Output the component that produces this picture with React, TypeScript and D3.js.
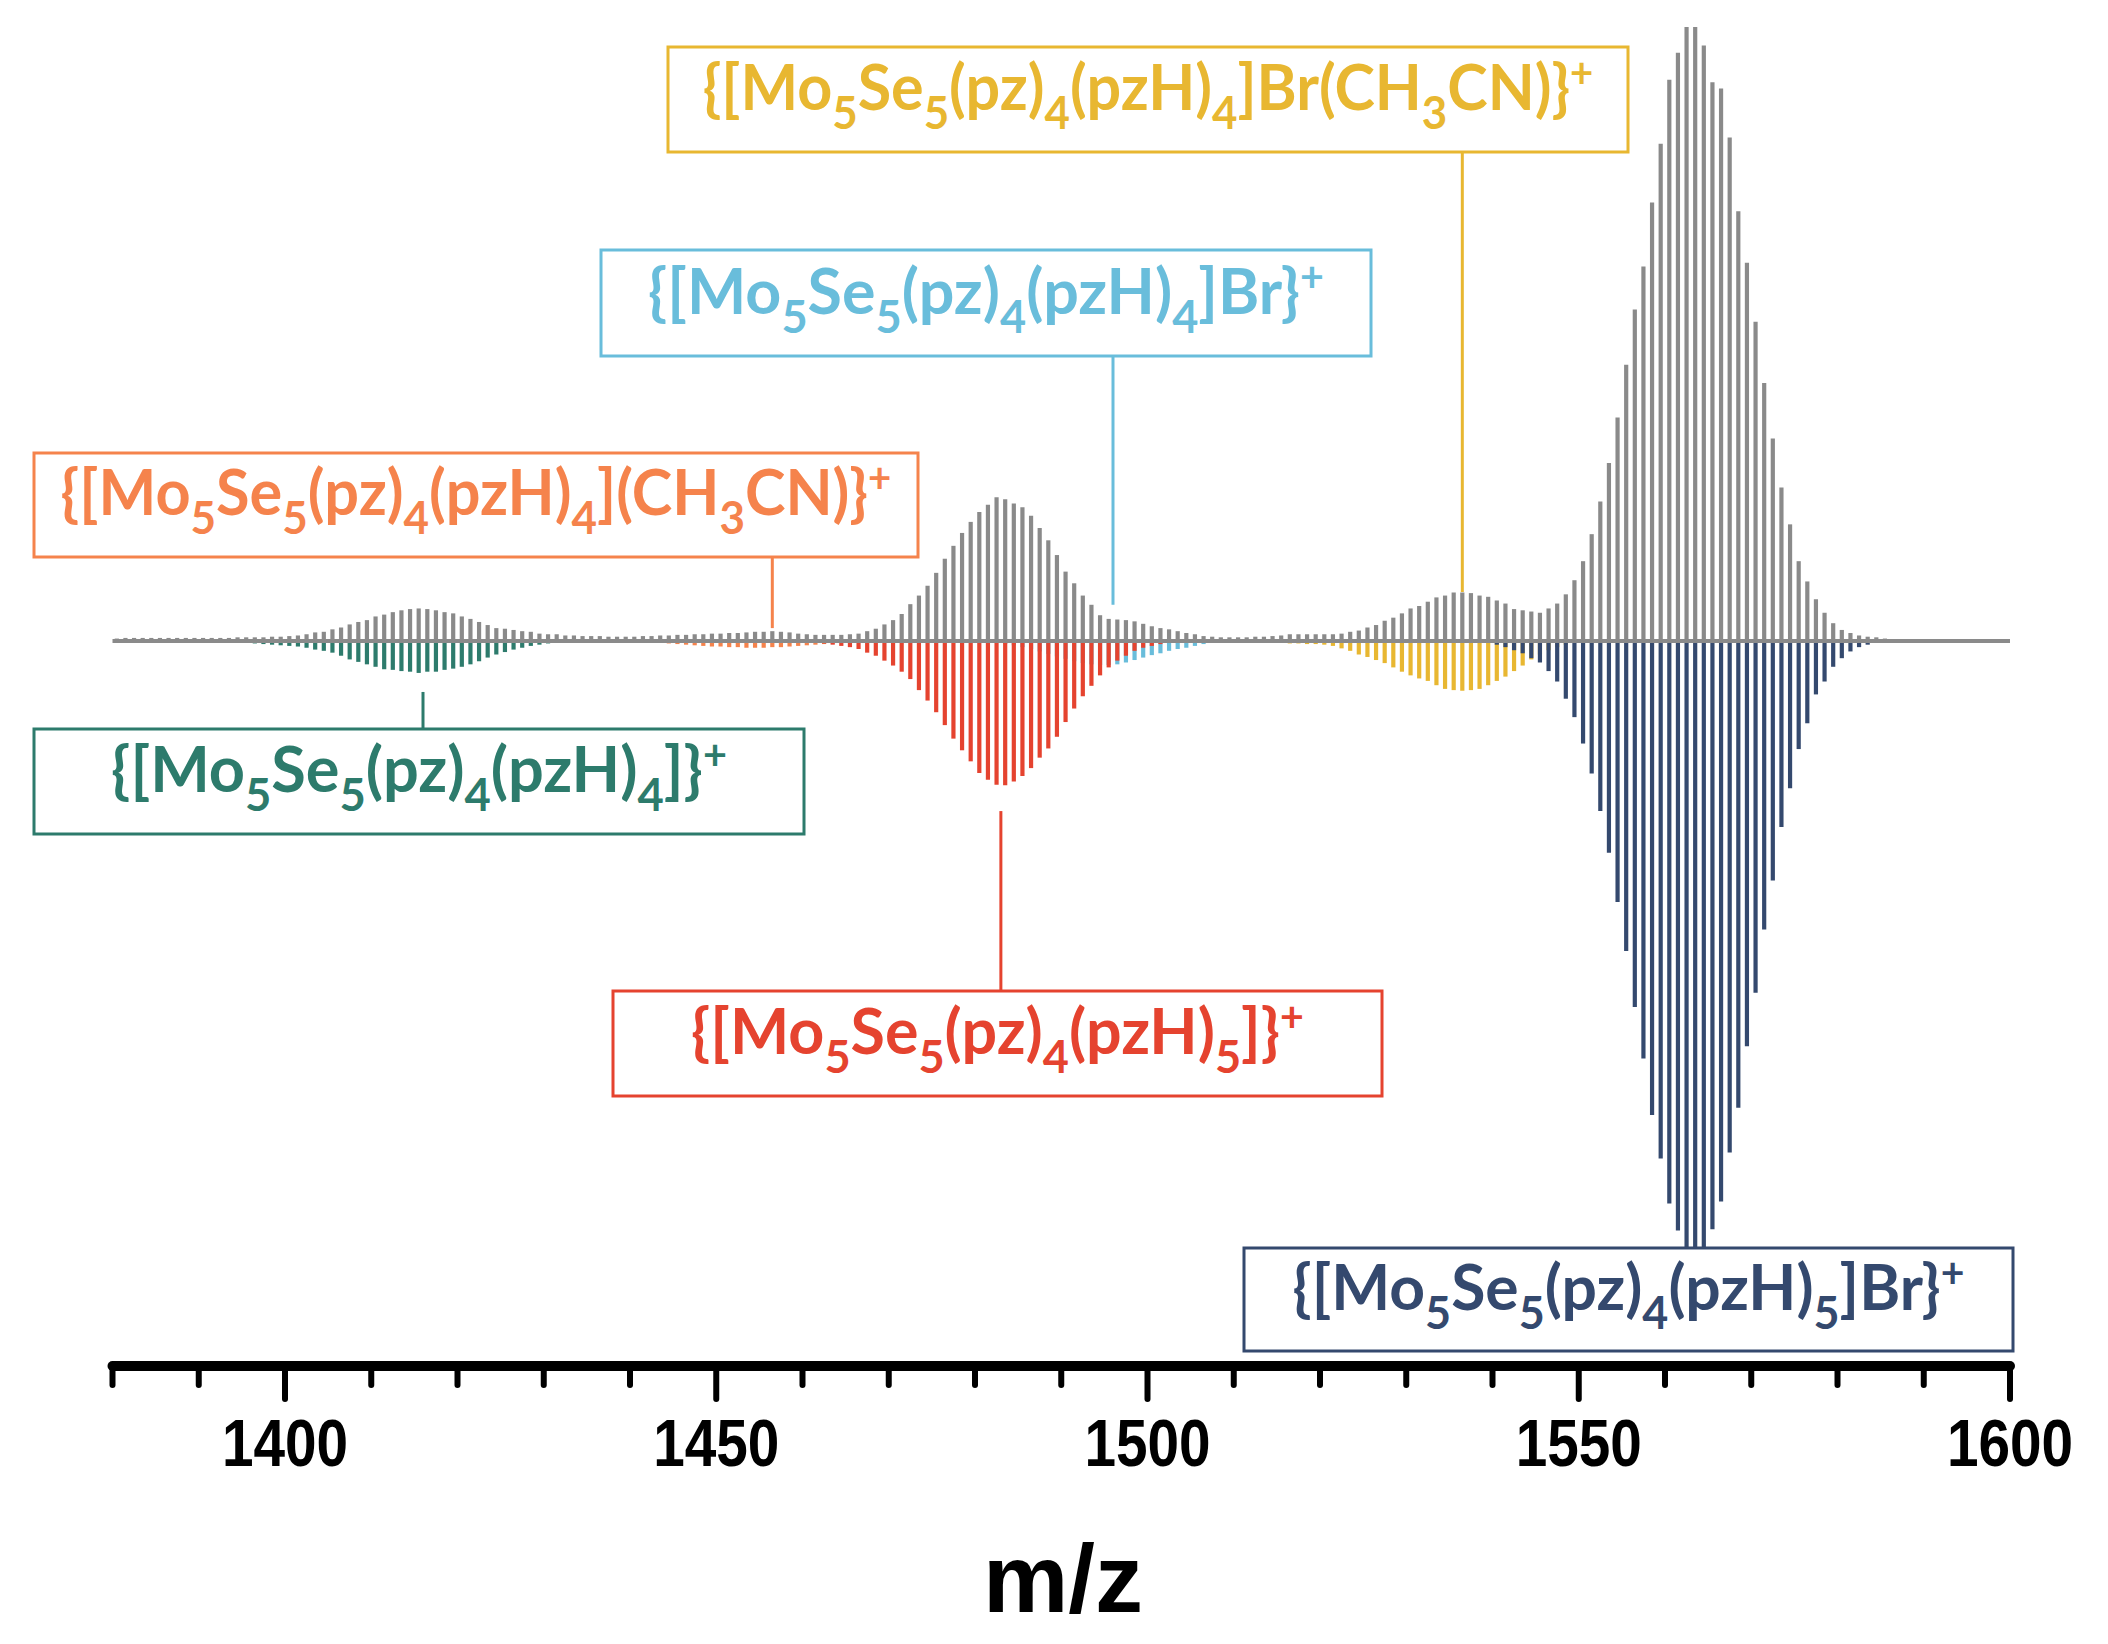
import React, { useEffect, useRef } from "react";
import * as d3 from "d3";

const W = 2108;
const H = 1644;

// experimental spectrum (grey sticks, pointing up), one stick per m/z unit
const expStartMz = 1380.5;
const expIntensity = [
  0.004, 0.005, 0.005, 0.005, 0.005, 0.005, 0.005, 0.005, 0.005, 0.005, 0.005, 0.005, 0.005, 0.005, 0.006, 0.006, 0.006,
  0.006, 0.007, 0.007, 0.008, 0.009, 0.011, 0.014, 0.015, 0.019, 0.022, 0.027, 0.031, 0.034, 0.04, 0.043, 0.047, 0.05,
  0.052, 0.053, 0.052, 0.05, 0.047, 0.045, 0.04, 0.036, 0.031, 0.026, 0.021, 0.02, 0.018, 0.016, 0.015, 0.012, 0.011,
  0.011, 0.009, 0.009, 0.008,
  0.008, 0.008, 0.007, 0.007, 0.007, 0.007, 0.008, 0.008, 0.009, 0.009, 0.01, 0.01, 0.011, 0.011, 0.012, 0.012, 0.013,
  0.013, 0.014, 0.015, 0.015, 0.016, 0.015, 0.014,
  0.012, 0.011, 0.01, 0.01, 0.01, 0.01, 0.011, 0.012,
  0.016, 0.02, 0.027, 0.034, 0.044, 0.06, 0.074, 0.09, 0.111, 0.134, 0.155, 0.176, 0.194, 0.21, 0.222, 0.234, 0.231,
  0.224, 0.218, 0.204, 0.184, 0.164, 0.14, 0.113, 0.094, 0.074, 0.059, 0.042, 0.036, 0.035, 0.034, 0.032, 0.028, 0.024,
  0.021, 0.019, 0.016, 0.013, 0.011, 0.008, 0.007, 0.006, 0.006, 0.006, 0.006,
  0.007, 0.007, 0.008, 0.009, 0.011, 0.011, 0.011, 0.011, 0.011, 0.011, 0.012, 0.015, 0.017, 0.022, 0.026, 0.033, 0.038,
  0.045, 0.053, 0.057, 0.064, 0.071, 0.074, 0.079, 0.079, 0.078, 0.074, 0.072, 0.066, 0.061, 0.052, 0.05, 0.048, 0.046,
  0.053, 0.061, 0.076, 0.099, 0.13,
  0.174, 0.227, 0.29, 0.364, 0.45, 0.54, 0.61, 0.714, 0.81, 0.914, 0.958, 1.0, 1.0, 0.97, 0.91, 0.9, 0.82, 0.7, 0.616,
  0.52, 0.42, 0.33, 0.25, 0.19, 0.13, 0.097, 0.068, 0.046, 0.029, 0.018, 0.013, 0.009, 0.007, 0.006, 0.004, 0.003, 0.002,
];

// simulated isotope patterns (coloured sticks, pointing down)
const tealStartMz = 1393.5;
const tealSim = [
  0.002, 0.003, 0.003, 0.004, 0.005, 0.006, 0.007, 0.008, 0.009, 0.011, 0.014, 0.016, 0.019, 0.024, 0.03, 0.034, 0.038,
  0.042, 0.046, 0.047, 0.049, 0.05, 0.052, 0.05, 0.05, 0.047, 0.045, 0.042, 0.038, 0.033, 0.027, 0.022, 0.018, 0.014,
  0.011, 0.008, 0.006, 0.004, 0.003,
];

const orangeStartMz = 1442.5;
const orangeSim = [
  0.002, 0.003, 0.004, 0.005, 0.006, 0.007, 0.008, 0.009, 0.009, 0.01, 0.01, 0.011, 0.011, 0.011, 0.01, 0.01, 0.009,
  0.008, 0.007, 0.006, 0.005, 0.004, 0.003, 0.003, 0.002,
];

const redStartMz = 1462.5;
const redSim = [
  0.004, 0.006, 0.008, 0.01, 0.013, 0.019, 0.024, 0.032, 0.04, 0.05, 0.062, 0.08, 0.097, 0.116, 0.137, 0.159, 0.178,
  0.196, 0.215, 0.226, 0.234, 0.235, 0.229, 0.22, 0.207, 0.19, 0.175, 0.156, 0.132, 0.11, 0.09, 0.073, 0.056, 0.043,
  0.032, 0.024, 0.016, 0.011, 0.008, 0.005,
];

const blueStartMz = 1483.5;
const blueSim = [
  0.005, 0.007, 0.01, 0.013, 0.017, 0.021, 0.025, 0.029, 0.033, 0.036, 0.038, 0.039, 0.039, 0.038, 0.035, 0.031, 0.027,
  0.023, 0.02, 0.016, 0.013, 0.011, 0.008, 0.005, 0.003, 0.002,
];

const yellowStartMz = 1512.5;
const yellowSim = [
  0.002, 0.002, 0.003, 0.003, 0.004, 0.004, 0.005, 0.005, 0.006, 0.008, 0.012, 0.016, 0.022, 0.026, 0.031, 0.036, 0.043,
  0.05, 0.056, 0.061, 0.065, 0.072, 0.078, 0.08, 0.081, 0.08, 0.078, 0.072, 0.065, 0.058, 0.049, 0.04, 0.03, 0.022,
  0.015, 0.01, 0.006, 0.003,
];

const navyStartMz = 1539.5;
const navySim = [
  0.003, 0.006, 0.01, 0.015, 0.02, 0.028, 0.035, 0.049, 0.066, 0.094, 0.124, 0.167, 0.216, 0.277, 0.345, 0.425, 0.505,
  0.596, 0.68, 0.772, 0.843, 0.916, 0.96, 0.99, 0.99, 0.99, 0.958, 0.913, 0.833, 0.76, 0.66, 0.573, 0.47, 0.39, 0.303,
  0.24, 0.176, 0.134, 0.087, 0.066, 0.042, 0.028, 0.017, 0.01, 0.006, 0.003, 0.002,
];

// axis
const majorTicks = [1400, 1450, 1500, 1550, 1600];
const minorTicks = [1380, 1390, 1410, 1420, 1430, 1440, 1460, 1470, 1480, 1490, 1510, 1520, 1530, 1540, 1560, 1570, 1580, 1590];
const xLabel = "m/z";

// species labels: "_n" = subscript, "^+" = superscript
const labelTexts = [
  "{[Mo_5Se_5(pz)_4(pzH)_4]Br(CH_3CN)}^+",
  "{[Mo_5Se_5(pz)_4(pzH)_4]Br}^+",
  "{[Mo_5Se_5(pz)_4(pzH)_4](CH_3CN)}^+",
  "{[Mo_5Se_5(pz)_4(pzH)_4]}^+",
  "{[Mo_5Se_5(pz)_4(pzH)_5]}^+",
  "{[Mo_5Se_5(pz)_4(pzH)_5]Br}^+",
];
const labelColors = ["#e8b731", "#69bddb", "#f5834c", "#2d7b6c", "#e5432f", "#34496e"];
const labelAnchorMz = [1536.5, 1496, 1456.5, 1416, 1483, null];
const labelTipIntensity = [0.08, 0.059, 0.021, -0.083, -0.277, null];

// box geometry in px (layout only)
const boxLayout = [
  { x: 668, y: 47, w: 960, h: 105, textW: 891 },
  { x: 601, y: 250, w: 770, h: 106, textW: 676 },
  { x: 34, y: 453, w: 884, h: 104, textW: 831 },
  { x: 34, y: 729, w: 770, h: 105, textW: 616 },
  { x: 613, y: 991, w: 769, h: 105, textW: 613 },
  { x: 1244, y: 1248, w: 769, h: 103, textW: 672 },
];

const GREY = "#8a8a8a";
const STICK_W = 4.2;

export default function App() {
  const ref = useRef<SVGSVGElement>(null);

  useEffect(() => {
    const svg = d3.select(ref.current);
    svg.selectAll("*").remove();

    const x = d3.scaleLinear().domain([1380, 1600]).range([112.5, 2010]);
    const y = d3.scaleLinear().domain([0, 1]).range([641, 27]);

    const sims = [
      { start: blueStartMz, values: blueSim, color: labelColors[1] },
      { start: orangeStartMz, values: orangeSim, color: labelColors[2] },
      { start: redStartMz, values: redSim, color: labelColors[4] },
      { start: tealStartMz, values: tealSim, color: labelColors[3] },
      { start: yellowStartMz, values: yellowSim, color: labelColors[0] },
      { start: navyStartMz, values: navySim, color: labelColors[5] },
    ];

    // simulated patterns, drawn downwards
    sims.forEach((s) => {
      svg
        .append("g")
        .selectAll("line")
        .data(s.values)
        .join("line")
        .attr("x1", (d, i) => x(s.start + i))
        .attr("x2", (d, i) => x(s.start + i))
        .attr("y1", y(0))
        .attr("y2", (d) => y(-d))
        .attr("stroke", s.color)
        .attr("stroke-width", STICK_W);
    });

    // experimental sticks
    svg
      .append("g")
      .selectAll("line")
      .data(expIntensity)
      .join("line")
      .attr("x1", (d, i) => x(expStartMz + i))
      .attr("x2", (d, i) => x(expStartMz + i))
      .attr("y1", y(0))
      .attr("y2", (d) => y(d))
      .attr("stroke", GREY)
      .attr("stroke-width", STICK_W);

    // baseline
    svg
      .append("line")
      .attr("x1", x(1380))
      .attr("x2", x(1600))
      .attr("y1", y(0))
      .attr("y2", y(0))
      .attr("stroke", GREY)
      .attr("stroke-width", 4);

    // x axis
    const axisY = 1366;
    const ax = svg.append("g");
    ax.selectAll("line.minor")
      .data(minorTicks)
      .join("line")
      .attr("class", "minor")
      .attr("x1", (d) => x(d))
      .attr("x2", (d) => x(d))
      .attr("y1", axisY)
      .attr("y2", axisY + 19)
      .attr("stroke", "#000")
      .attr("stroke-width", 6)
      .attr("stroke-linecap", "round");
    ax.selectAll("line.major")
      .data(majorTicks)
      .join("line")
      .attr("class", "major")
      .attr("x1", (d) => x(d))
      .attr("x2", (d) => x(d))
      .attr("y1", axisY)
      .attr("y2", axisY + 33)
      .attr("stroke", "#000")
      .attr("stroke-width", 6)
      .attr("stroke-linecap", "round");
    ax.append("line")
      .attr("x1", x(1380))
      .attr("x2", x(1600))
      .attr("y1", axisY)
      .attr("y2", axisY)
      .attr("stroke", "#000")
      .attr("stroke-width", 10)
      .attr("stroke-linecap", "round");
    ax.selectAll("text")
      .data(majorTicks)
      .join("text")
      .attr("transform", (d) => `translate(${x(d)},1466) scale(0.86,1)`)
      .attr("text-anchor", "middle")
      .attr("font-family", "'Liberation Sans', Arial, sans-serif")
      .attr("font-weight", "bold")
      .attr("font-size", 66)
      .attr("fill", "#000")
      .text((d) => d);

    svg
      .append("text")
      .attr("x", 1063)
      .attr("y", 1612)
      .attr("text-anchor", "middle")
      .attr("font-family", "'Liberation Sans', Arial, sans-serif")
      .attr("font-weight", "bold")
      .attr("font-size", 96)
      .attr("fill", "#000")
      .text(xLabel);

    // labels with boxes and connector lines
    labelTexts.forEach((txt, k) => {
      const b = boxLayout[k];
      const color = labelColors[k];
      const g = svg.append("g");

      const mz = labelAnchorMz[k];
      const tip = labelTipIntensity[k];
      if (mz !== null && tip !== null) {
        const fromY = tip > 0 ? b.y + b.h : b.y;
        g.append("line")
          .attr("x1", x(mz))
          .attr("x2", x(mz))
          .attr("y1", fromY)
          .attr("y2", y(tip))
          .attr("stroke", color)
          .attr("stroke-width", 3);
      }

      g.append("rect")
        .attr("x", b.x)
        .attr("y", b.y)
        .attr("width", b.w)
        .attr("height", b.h)
        .attr("fill", "#fff")
        .attr("stroke", color)
        .attr("stroke-width", 3);

      const t = g
        .append("text")
        .attr("text-anchor", "middle")
        .attr("font-family", "Lato, 'Open Sans', sans-serif")
        .attr("font-weight", "bold")
        .attr("font-size", 64)
        .attr("fill", color);

      const parts = txt.match(/(_\d+|\^\+|[^_^]+)/g) || [];
      let shift = 0;
      parts.forEach((p) => {
        let dy = 0;
        let size = 64;
        let content = p;
        if (p.startsWith("_")) {
          dy = 19 - shift;
          shift = 19;
          size = 46;
          content = p.slice(1);
        } else if (p.startsWith("^")) {
          dy = -22 - shift;
          shift = -22;
          size = 42;
          content = p.slice(1);
        } else {
          dy = -shift;
          shift = 0;
        }
        t.append("tspan").attr("dy", dy).attr("font-size", size).text(content);
      });

      const node = t.node() as SVGTextElement;
      const bw = node.getBBox().width || b.textW;
      const sx = b.textW / bw;
      t.attr(
        "transform",
        `translate(${b.x + b.w / 2},${b.y + b.h * 0.6}) scale(${sx},1)`
      );
    });
  }, []);

  return (
    <svg
      ref={ref}
      width={W}
      height={H}
      style={{ position: "absolute", left: 0, top: 0, background: "#fff" }}
    />
  );
}
